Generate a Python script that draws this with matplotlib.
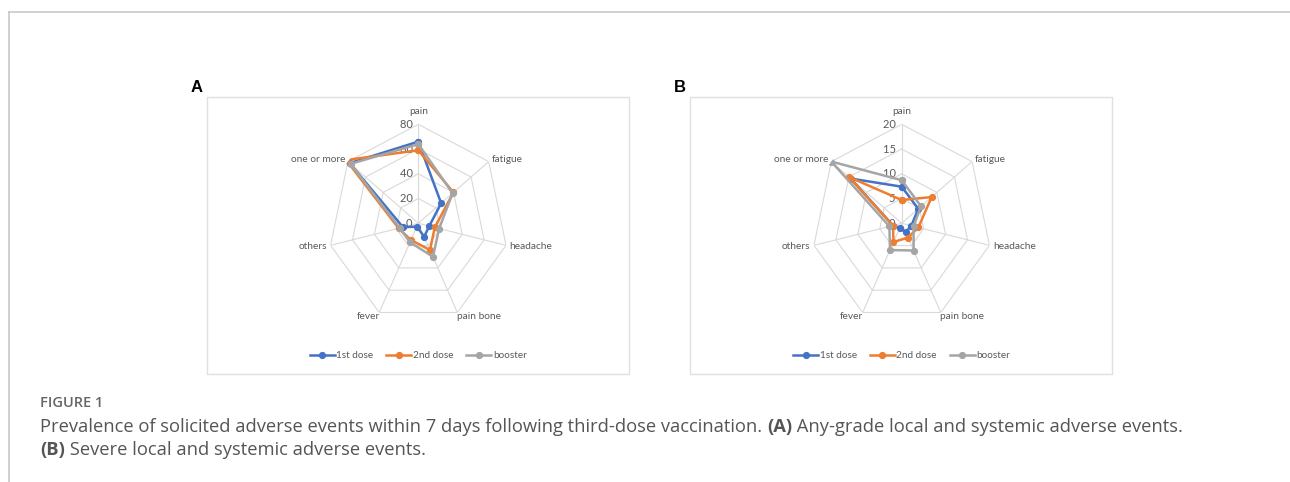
import numpy as np
import matplotlib
matplotlib.use('Agg')
import matplotlib.pyplot as plt
from matplotlib.lines import Line2D
from matplotlib.patches import Rectangle

categories = ["pain", "fatigue", "headache", "pain bone", "fever", "others", "one or more"]
series_names = ["1st dose", "2nd dose", "booster"]
colors = ["#4472C4", "#ED7D31", "#A5A5A5"]

# panel A: any grade (%)
first_a = [66, 26, 10, 12, 3, 14, 78]
second_a = [59, 40, 15, 24, 15, 18, 82]
booster_a = [64, 39, 19, 30, 17, 17, 77]
ticks_a = [0, 20, 40, 60, 80]

# panel B: severe (%)
first_b = [7.4, 4.7, 2.2, 2.0, 1.0, 2.0, 14.5]
second_b = [4.7, 8.5, 3.8, 3.2, 4.2, 2.0, 15]
booster_b = [8.7, 5.5, 2.7, 6.1, 6.0, 2.8, 20]
ticks_b = [0, 5, 10, 15, 20]

W, H = 1290, 482
fig = plt.figure(figsize=(W / 100, H / 100), dpi=100)
chart_font = ["Lato", "DejaVu Sans"]
cap_font = ["Open Sans", "DejaVu Sans"]
txt_col = "#595959"
grid_col = "#d9d9d9"


def fx(px):
    return px / W


def fy(py):
    return 1 - py / H


def radar(cx, cy, data, ticks, letter, box):
    # box in pixels: left, top, right, bottom
    l, t, r, b = box
    fig.patches.append(Rectangle((fx(l), fy(b)), fx(r - l), (b - t) / H,
                                 transform=fig.transFigure, fill=False,
                                 edgecolor="#e0e0e0", lw=1.0))
    fig.text(fx(cx - 222), fy(87), letter, fontsize=12, fontweight="bold",
             ha="center", va="center", family=["Liberation Sans", "DejaVu Sans"])

    rx, ry = 90, 99
    ax = fig.add_axes([fx(cx - rx), fy(cy + ry), fx(2 * rx), 2 * ry / H],
                      projection="polar")
    ax.set_aspect("auto")
    ax.set_theta_zero_location("N")
    ax.set_theta_direction(-1)
    rmax = ticks[-1]
    ax.set_ylim(0, rmax)
    ax.grid(False)
    ax.spines["polar"].set_visible(False)
    ax.set_xticks([])
    ax.set_yticks([])
    ax.patch.set_visible(False)

    n = len(categories)
    ang = np.arange(n) * 2 * np.pi / n
    ring = np.append(ang, ang[0])
    for lev in ticks[1:]:
        ax.plot(ring, [lev] * (n + 1), color=grid_col, lw=0.8, zorder=1)
    for a in ang:
        ax.plot([a, a], [0, rmax], color=grid_col, lw=0.8, zorder=1)

    for lev in ticks:
        ax.text(0, lev, str(lev) + "  ", ha="right", va="center", fontsize=8,
                color=txt_col, family=chart_font, zorder=2)

    for a, name in zip(ang, categories):
        s = np.sin(a)
        if abs(s) < 0.05:
            ha = "center"
        elif s > 0:
            ha = "left"
        else:
            ha = "right"
        c = np.cos(a)
        if c > 0.9:
            va, rr = "bottom", rmax * 1.08
        elif c < -0.8:
            va, rr = "top", rmax * 0.99
        else:
            va, rr = "center", rmax * 1.04
        ax.text(a, rr, name, ha=ha, va=va, fontsize=7.3, color=txt_col,
                family=chart_font)

    for vals, col, name in zip(data, colors, series_names):
        v = np.append(vals, vals[0])
        ax.plot(ring, v, color=col, lw=1.8, marker="o", markersize=4.2,
                zorder=3, label=name)

    handles = [Line2D([], [], color=c, lw=1.8, marker="o", markersize=4.2)
               for c in colors]
    fig.legend(handles, series_names, loc="center", ncol=3,
               bbox_to_anchor=(fx(cx), fy(356)), frameon=False,
               prop={"family": chart_font, "size": 7.2}, handlelength=2.5,
               handletextpad=0.15, columnspacing=1.3, labelcolor=txt_col)


radar(418.3, 223.3, [first_a, second_a, booster_a], ticks_a, "A",
      (207, 97, 629, 374))
radar(901.7, 223.3, [first_b, second_b, booster_b], ticks_b, "B",
      (690, 97, 1112, 374))

# outer frame
fig.add_artist(Line2D([fx(9), 1], [fy(12), fy(12)], color="#c8c8c8", lw=1.2,
                      transform=fig.transFigure))
fig.add_artist(Line2D([fx(9), fx(9)], [fy(12), 0], color="#c8c8c8", lw=1.2,
                      transform=fig.transFigure))

# caption
cap_col = "#666666"
fig.text(fx(40), fy(403), "FIGURE 1", fontsize=10.5, color=cap_col,
         family=cap_font, fontweight="semibold", va="center")

renderer = fig.canvas.get_renderer()


def runs(pieces, x0, y0):
    x = x0
    for txt, bold in pieces:
        t = fig.text(fx(x), fy(y0), txt, fontsize=13.2, color="#555555",
                     family=cap_font, va="center",
                     fontweight="bold" if bold else "normal")
        x += t.get_window_extent(renderer).width


runs([("Prevalence of solicited adverse events within 7 days following third-dose vaccination. ", False),
      ("(A)", True), (" Any-grade local and systemic adverse events.", False)], 40, 427)
runs([("(B)", True), (" Severe local and systemic adverse events.", False)], 40, 450)

fig.savefig("out.png", dpi=100)
